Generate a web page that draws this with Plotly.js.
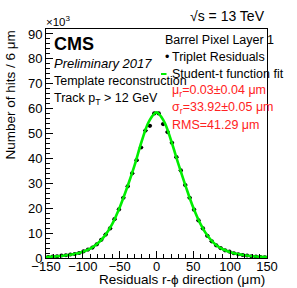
<!DOCTYPE html>
<html><head><meta charset="utf-8">
<script src="https://cdn.plot.ly/plotly-3.0.1.min.js"></script>
<style>html,body{margin:0;padding:0;background:#fff;}</style>
</head><body>
<div id="chart" style="width:297px;height:288px;"></div>
<script>
// bin centres (µm) and counts (x10^3 hits / 6 µm)
const binCenters = [-147,-141,-135,-129,-123,-117,-111,-105,-99,-93,-87,-81,-75,-69,-63,-57,-51,-45,-39,-33,-27,-21,-15,-9,-3,
                    3,9,15,21,27,33,39,45,51,57,63,69,75,81,87,93,99,105,111,117,123,129,135,141,147];
const hits = [0.4,0.6,0.7,1.0,1.1,1.4,1.6,2.0,2.7,3.4,4.2,5.5,7.3,9.4,11.9,15.6,19.5,24.2,28.8,34.0,39.3,44.4,51.2,53.1,58.1,
              58.1,53.8,50.6,46.3,40.5,35.2,29.3,24.2,19.4,15.1,11.9,8.9,6.7,5.1,4.0,3.1,2.6,1.9,1.5,1.2,1.0,0.7,0.6,0.4,0.3];
// Student-t fit curve
const fitX = [-150,-135,-120,-105,-90,-80,-70,-60,-50,-40,-30,-20,-10,0,10,20,30,40,50,60,70,80,90,105,120,135,150];
const fitY = [0.4,0.7,1.2,2.0,3.8,5.8,9.0,13.7,20.3,28.2,37.0,47.0,55.0,58.5,55.0,47.0,37.5,28.5,20.2,13.5,8.6,5.4,3.5,1.9,1.1,0.6,0.35];
const xTicks = [-150,-100,-50,0,50,100,150];
const yTicks = [0,10,20,30,40,50,60,70,80,90];

const L=46, R=30, T=29, B=30, W=297, H=288;
const PW = W-L-R, PH = H-T-B;
const px = p => (p-L)/PW;
const py = p => (H-B-p)/PH;
const FONT = 'Liberation Sans, Arial, sans-serif';

const traces = [
  {x: binCenters, y: hits, type:'scatter', mode:'markers',
   marker:{color:'#000', size:4.2},
   error_x:{type:'constant', value:3, width:0, thickness:1, color:'#000'},
   hoverinfo:'skip', showlegend:false},
  {x: fitX, y: fitY, type:'scatter', mode:'lines',
   line:{color:'#00ee00', width:2.6, shape:'spline', smoothing:1.0},
   hoverinfo:'skip', showlegend:false}
];

function ann(text, xp, yp, opt){
  return Object.assign({text:text, x:px(xp), y:py(yp), xref:'paper', yref:'paper',
    xanchor:'left', yanchor:'middle', showarrow:false,
    font:{family:FONT, size:12.5, color:'#000'}}, opt||{});
}

const red = '#ff2222';
const annotations = [
  ann('<b>CMS</b>', 52, 44, {font:{family:FONT, size:18, color:'#000'}}),
  ann('<i>Preliminary 2017</i>', 52, 63, {font:{family:FONT, size:13, color:'#000'}}),
  ann('Template reconstruction', 52, 81),
  ann('Track p<sub>T</sub> > 12 GeV', 52, 99),
  ann('Barrel Pixel Layer 1', 163, 40),
  ann('•', 163, 57),
  ann('Triplet Residuals', 170, 57),
  ann('Student-t function fit', 170, 74),
  ann('μ<sub>r</sub>=0.03±0.04 μm', 170, 91, {font:{family:FONT, size:12.5, color:red}}),
  ann('σ<sub>r</sub>=33.92±0.05 μm', 170, 108, {font:{family:FONT, size:12.5, color:red}}),
  ann('RMS=41.29 μm', 170, 125, {font:{family:FONT, size:12.5, color:red}}),
  ann('√s = 13 TeV', 267, 16, {xanchor:'right', font:{family:FONT, size:14, color:'#000'}}),
  ann('×10<sup>3</sup>', 44, 21, {font:{family:FONT, size:11.5, color:'#000'}}),
  ann('Residuals r-ϕ direction (μm)', 267, 279, {xanchor:'right', font:{family:FONT, size:13.5, color:'#000'}}),
  ann('Number of hits / 6 μm', 10, 29, {xanchor:'center', yanchor:'top', textangle:-90, font:{family:FONT, size:13.5, color:'#000'}})
];

const shapes = [
  {type:'line', xref:'paper', yref:'paper', x0:px(161), x1:px(166.5), y0:py(74), y1:py(74),
   line:{color:'#00ee00', width:2}}
];

const layout = {
  width:W, height:H,
  margin:{l:L, r:R, t:T, b:B, pad:0},
  paper_bgcolor:'#fff', plot_bgcolor:'#fff',
  font:{family:FONT, size:13, color:'#000'},
  showlegend:false,
  xaxis:{range:[-150,150], tickvals:xTicks, ticks:'inside', ticklen:7, tickcolor:'#000', tickwidth:1,
    showline:true, linecolor:'#000', linewidth:1, mirror:true, showgrid:false, zeroline:false,
    ticklabelstandoff:-4,
    minor:{dtick:10, ticks:'inside', ticklen:4, tickcolor:'#000', showgrid:false},
    tickfont:{family:FONT, size:13, color:'#000'}, fixedrange:true},
  yaxis:{range:[0,92], tickvals:yTicks, ticks:'inside', ticklen:7, tickcolor:'#000', tickwidth:1,
    showline:true, linecolor:'#000', linewidth:1, mirror:true, showgrid:false, zeroline:false,
    minor:{dtick:2, ticks:'inside', ticklen:4, tickcolor:'#000', showgrid:false},
    tickfont:{family:FONT, size:13, color:'#000'}, fixedrange:true},
  annotations: annotations,
  shapes: shapes
};

Plotly.newPlot('chart', traces, layout, {staticPlot:true, displayModeBar:false});
</script>
</body></html>
